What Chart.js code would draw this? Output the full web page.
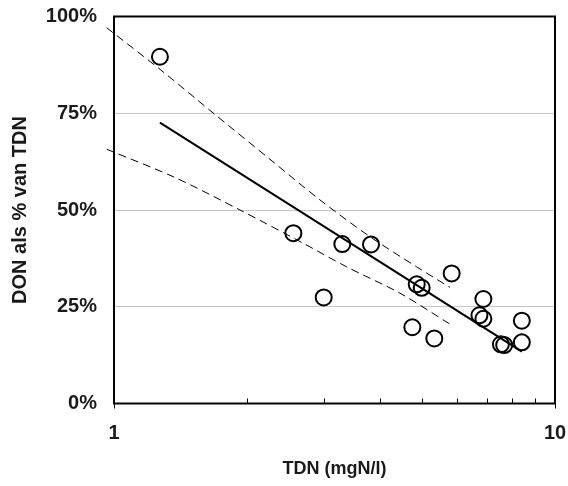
<!DOCTYPE html>
<html>
<head>
<meta charset="utf-8">
<script src="https://cdn.jsdelivr.net/npm/chart.js@4"></script>
<style>
	html, body { margin: 0; padding: 0; background: #fff; }
	#wrap { width: 568px; height: 486px; }
</style>
</head>
<body>
<div id="wrap"><canvas id="chart" width="568" height="486"></canvas></div>
<script>
// measured points (TDN in mgN/l, DON as % of TDN)
const tdn = [1.271, 2.551, 3.294, 3.826, 2.989, 4.858, 4.986, 5.83, 6.88, 6.74, 6.88, 4.748, 5.325, 7.54, 7.67, 8.41, 8.41];
const donPct = [89.6, 44.0, 41.2, 41.1, 27.4, 30.8, 29.9, 33.6, 27.0, 22.8, 21.9, 19.7, 16.8, 15.3, 15.1, 21.4, 15.8];

// regression line
const fitX = [1.271, 8.41];
const fitY = [72.6, 13.4];

// upper / lower dashed band
const upperX = [0.9626, 1.3054, 1.6767, 2.2582, 2.9315, 3.8063, 4.8577, 5.780];
const upperY = [97.1, 85.3, 75.1, 63.1, 52.6, 43.1, 35.3, 30.0];
const lowerX = [0.9626, 1.3749, 1.9307, 2.6872, 3.3706, 4.4519, 5.780];
const lowerY = [65.7, 58.4, 50.0, 41.4, 35.3, 28.5, 20.5];

// axes
const xTickValues = [1, 2, 3, 4, 5, 6, 7, 8, 9, 10];
const xTickLabels = [1, 10];
const yTickValues = [0, 25, 50, 75, 100];

const toPoints = (xs, ys) => xs.map((x, i) => ({ x: x, y: ys[i] }));

// no extra room for overflowing tick labels, the layout padding decides
const noOverflow = (scale) => {
	scale.paddingLeft = 0;
	scale.paddingRight = 0;
	scale.paddingTop = 0;
	scale.paddingBottom = 0;
};

Chart.defaults.font.family = "'Liberation Sans', Arial, sans-serif";
Chart.defaults.color = '#1a1a1a';

// frame around plot + small tick marks on the x axis
const framePlugin = {
	id: 'frame',
	afterDraw: (chart) => {
		const ctx = chart.ctx;
		const a = chart.chartArea;
		const xs = chart.scales.x;
		ctx.save();
		ctx.strokeStyle = '#000';
		ctx.lineWidth = 1;
		xTickValues.forEach((v) => {
			const px = Math.round(xs.getPixelForValue(v)) + 0.5;
			ctx.beginPath();
			if (v === 1 || v === 10) {
				ctx.moveTo(px, a.bottom);
				ctx.lineTo(px, a.bottom + 5);
			} else {
				ctx.moveTo(px, a.bottom);
				ctx.lineTo(px, a.bottom - 5);
			}
			ctx.stroke();
		});
		ctx.lineWidth = 2;
		ctx.strokeRect(a.left, a.top, a.right - a.left, a.bottom - a.top);
		ctx.restore();
	}
};

const ctx = document.getElementById('chart').getContext('2d');

const chart = new Chart(ctx, {
	type: 'scatter',
	data: {
		datasets: [
			{
				label: 'upper',
				data: toPoints(upperX, upperY),
				showLine: true,
				tension: 0.3,
				borderColor: '#000',
				borderWidth: 1,
				borderDash: [8, 5],
				pointRadius: 0,
				clip: false,
				order: 3
			},
			{
				label: 'lower',
				data: toPoints(lowerX, lowerY),
				showLine: true,
				tension: 0.3,
				borderColor: '#000',
				borderWidth: 1,
				borderDash: [8, 5],
				pointRadius: 0,
				clip: false,
				order: 3
			},
			{
				label: 'fit',
				data: toPoints(fitX, fitY),
				showLine: true,
				borderColor: '#000',
				borderWidth: 2,
				pointRadius: 0,
				order: 2
			},
			{
				label: 'DON',
				data: toPoints(tdn, donPct),
				pointStyle: 'circle',
				pointRadius: 8,
				pointBorderWidth: 2,
				pointBorderColor: '#000',
				pointBackgroundColor: 'rgba(0,0,0,0)',
				order: 1
			}
		]
	},
	options: {
		responsive: false,
		animation: false,
		layout: {
			padding: { left: 0, right: 13, top: 16.5, bottom: 0 }
		},
		plugins: {
			legend: { display: false },
			tooltip: { enabled: false }
		},
		scales: {
			x: {
				type: 'logarithmic',
				min: 1,
				max: 10,
				afterBuildTicks: (scale) => {
					scale.ticks = xTickValues.map((v) => ({ value: v }));
				},
				afterFit: (scale) => {
					scale.height = 82.5;
					noOverflow(scale);
				},
				ticks: {
					autoSkip: false,
					maxRotation: 0,
					padding: 18,
					font: { size: 20, weight: 'bold' },
					color: '#1a1a1a',
					callback: (v) => xTickLabels.includes(v) ? String(v) : ''
				},
				grid: { display: true, drawOnChartArea: false, drawTicks: false, color: 'rgba(0,0,0,0)' },
				border: { display: false },
				title: {
					display: true,
					text: 'TDN (mgN/l)',
					color: '#1a1a1a',
					font: { size: 18, weight: 'bold' },
					padding: { top: 0, bottom: 6 }
				}
			},
			y: {
				min: 0,
				max: 100,
				afterBuildTicks: (scale) => {
					scale.ticks = yTickValues.map((v) => ({ value: v }));
				},
				afterFit: (scale) => {
					scale.width = 114;
					noOverflow(scale);
				},
				ticks: {
					padding: 17,
					font: { size: 20, weight: 'bold' },
					color: '#1a1a1a',
					callback: (v) => v + '%'
				},
				grid: {
					drawTicks: false,
					lineWidth: 1,
					color: (c) => (c.tick && (c.tick.value === 0 || c.tick.value === 100)) ? 'rgba(0,0,0,0)' : '#c8c8c8'
				},
				border: { display: false },
				title: {
					display: true,
					text: 'DON als % van TDN',
					color: '#1a1a1a',
					font: { size: 20, weight: 'bold' },
					padding: { top: 8, bottom: 0 }
				}
			}
		}
	},
	plugins: [framePlugin]
});
</script>
</body>
</html>
